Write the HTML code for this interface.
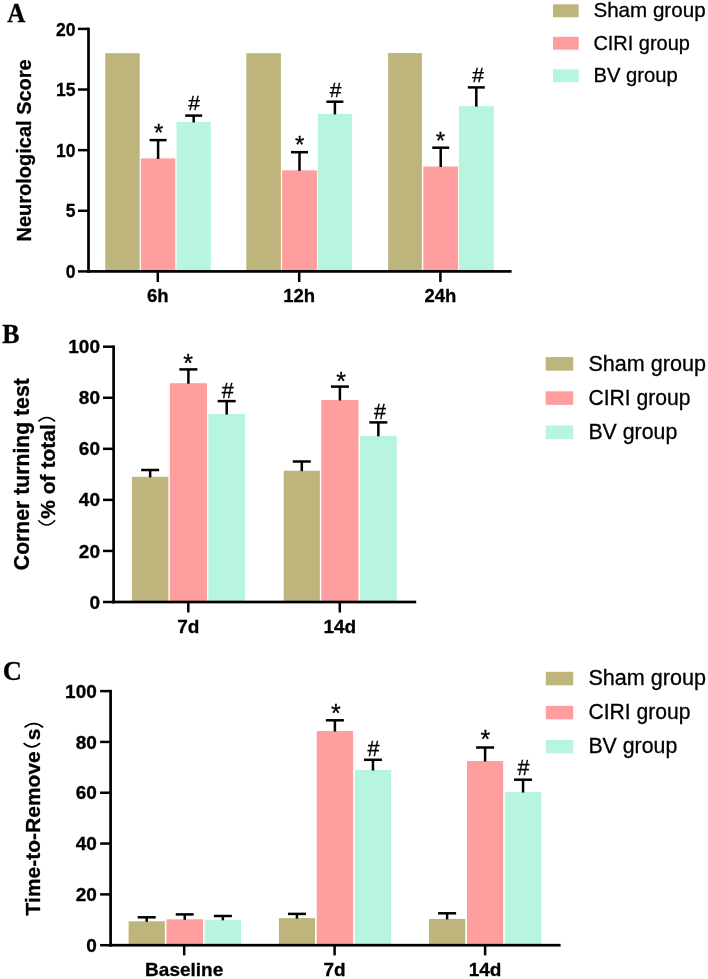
<!DOCTYPE html>
<html><head><meta charset="utf-8"><style>
html,body{margin:0;padding:0;background:#fff;}
svg{display:block;will-change:transform;}
text{stroke:#000;stroke-width:0.3px;}
</style></head><body>
<svg width="708" height="979" viewBox="0 0 708 979">
<rect width="708" height="979" fill="#fff"/>
<text x="0" y="0" transform="translate(7.30,22.30) scale(0.93,1)" font-family="Liberation Serif, serif" font-size="27" font-weight="bold">A</text>
<rect x="105.30" y="53.20" width="34.40" height="218.20" fill="#BEB57D"/>
<rect x="140.90" y="158.40" width="34.40" height="113.00" fill="#FF9E9E"/>
<rect x="156.85" y="140.10" width="2.50" height="18.80" fill="#000"/>
<rect x="149.60" y="138.85" width="17.00" height="2.50" fill="#000"/>
<rect x="176.50" y="121.90" width="34.40" height="149.50" fill="#B7F5DE"/>
<rect x="192.45" y="115.60" width="2.50" height="6.80" fill="#000"/>
<rect x="185.20" y="114.35" width="17.00" height="2.50" fill="#000"/>
<text x="158.60" y="141.00" font-family="Liberation Sans, sans-serif" font-size="24" font-weight="normal" text-anchor="middle">*</text>
<text x="194.00" y="110.20" font-family="Liberation Sans, sans-serif" font-size="21" font-weight="normal" text-anchor="middle">#</text>
<rect x="156.55" y="271.40" width="2.50" height="10.60" fill="#000"/>
<text x="157.80" y="301.50" font-family="Liberation Sans, sans-serif" font-size="18.5" font-weight="bold" text-anchor="middle">6h</text>
<rect x="246.30" y="53.20" width="34.60" height="218.20" fill="#BEB57D"/>
<rect x="282.10" y="170.30" width="34.80" height="101.10" fill="#FF9E9E"/>
<rect x="298.25" y="152.20" width="2.50" height="18.60" fill="#000"/>
<rect x="291.00" y="150.95" width="17.00" height="2.50" fill="#000"/>
<rect x="317.70" y="113.90" width="34.40" height="157.50" fill="#B7F5DE"/>
<rect x="333.65" y="101.70" width="2.50" height="12.70" fill="#000"/>
<rect x="326.40" y="100.45" width="17.00" height="2.50" fill="#000"/>
<text x="299.60" y="152.70" font-family="Liberation Sans, sans-serif" font-size="24" font-weight="normal" text-anchor="middle">*</text>
<text x="335.50" y="96.60" font-family="Liberation Sans, sans-serif" font-size="21" font-weight="normal" text-anchor="middle">#</text>
<rect x="297.95" y="271.40" width="2.50" height="10.60" fill="#000"/>
<text x="299.20" y="301.50" font-family="Liberation Sans, sans-serif" font-size="18.5" font-weight="bold" text-anchor="middle">12h</text>
<rect x="388.10" y="53.10" width="33.80" height="218.30" fill="#BEB57D"/>
<rect x="423.30" y="166.50" width="34.80" height="104.90" fill="#FF9E9E"/>
<rect x="439.45" y="147.70" width="2.50" height="19.30" fill="#000"/>
<rect x="432.20" y="146.45" width="17.00" height="2.50" fill="#000"/>
<rect x="458.90" y="106.10" width="34.80" height="165.30" fill="#B7F5DE"/>
<rect x="475.05" y="87.40" width="2.50" height="19.20" fill="#000"/>
<rect x="467.80" y="86.15" width="17.00" height="2.50" fill="#000"/>
<text x="440.40" y="149.10" font-family="Liberation Sans, sans-serif" font-size="24" font-weight="normal" text-anchor="middle">*</text>
<text x="478.00" y="82.20" font-family="Liberation Sans, sans-serif" font-size="21" font-weight="normal" text-anchor="middle">#</text>
<rect x="439.15" y="271.40" width="2.50" height="10.60" fill="#000"/>
<text x="440.40" y="301.50" font-family="Liberation Sans, sans-serif" font-size="18.5" font-weight="bold" text-anchor="middle">24h</text>
<rect x="87.15" y="27.65" width="2.70" height="245.10" fill="#000"/>
<rect x="87.15" y="270.05" width="424.45" height="2.70" fill="#000"/>
<rect x="78.00" y="270.15" width="10.50" height="2.50" fill="#000"/>
<text x="75.50" y="278.10" font-family="Liberation Sans, sans-serif" font-size="17.5" font-weight="bold" text-anchor="end">0</text>
<rect x="78.00" y="209.52" width="10.50" height="2.50" fill="#000"/>
<text x="75.50" y="217.47" font-family="Liberation Sans, sans-serif" font-size="17.5" font-weight="bold" text-anchor="end">5</text>
<rect x="78.00" y="148.90" width="10.50" height="2.50" fill="#000"/>
<text x="75.50" y="156.85" font-family="Liberation Sans, sans-serif" font-size="17.5" font-weight="bold" text-anchor="end">10</text>
<rect x="78.00" y="88.27" width="10.50" height="2.50" fill="#000"/>
<text x="75.50" y="96.22" font-family="Liberation Sans, sans-serif" font-size="17.5" font-weight="bold" text-anchor="end">15</text>
<rect x="78.00" y="27.65" width="10.50" height="2.50" fill="#000"/>
<text x="75.50" y="35.60" font-family="Liberation Sans, sans-serif" font-size="17.5" font-weight="bold" text-anchor="end">20</text>
<rect x="553.00" y="4.30" width="25.70" height="12.90" fill="#BEB57D"/>
<text x="0" y="0" transform="translate(593.40,17.40) scale(1.0,1)" font-family="Liberation Sans, sans-serif" font-size="20.6">Sham group</text>
<rect x="553.00" y="36.80" width="25.70" height="12.90" fill="#FF9E9E"/>
<text x="0" y="0" transform="translate(593.40,49.90) scale(0.969,1)" font-family="Liberation Sans, sans-serif" font-size="20.6">CIRI group</text>
<rect x="553.00" y="69.30" width="25.70" height="12.90" fill="#B7F5DE"/>
<text x="0" y="0" transform="translate(593.40,82.40) scale(0.983,1)" font-family="Liberation Sans, sans-serif" font-size="20.6">BV group</text>
<text x="0" y="0" transform="translate(2.20,342.50) scale(0.96,1)" font-family="Liberation Serif, serif" font-size="27" font-weight="bold">B</text>
<rect x="131.90" y="476.80" width="36.50" height="125.20" fill="#BEB57D"/>
<rect x="148.90" y="470.00" width="2.50" height="7.30" fill="#000"/>
<rect x="141.15" y="468.75" width="18.00" height="2.50" fill="#000"/>
<rect x="169.80" y="383.20" width="37.20" height="218.80" fill="#FF9E9E"/>
<rect x="187.15" y="369.40" width="2.50" height="14.30" fill="#000"/>
<rect x="179.40" y="368.15" width="18.00" height="2.50" fill="#000"/>
<rect x="208.40" y="414.00" width="36.60" height="188.00" fill="#B7F5DE"/>
<rect x="225.45" y="401.10" width="2.50" height="13.40" fill="#000"/>
<rect x="217.70" y="399.85" width="18.00" height="2.50" fill="#000"/>
<text x="188.20" y="371.80" font-family="Liberation Sans, sans-serif" font-size="25" font-weight="normal" text-anchor="middle">*</text>
<text x="227.70" y="397.50" font-family="Liberation Sans, sans-serif" font-size="21.5" font-weight="normal" text-anchor="middle">#</text>
<rect x="187.05" y="602.00" width="2.50" height="10.50" fill="#000"/>
<text x="188.30" y="633.00" font-family="Liberation Sans, sans-serif" font-size="19" font-weight="bold" text-anchor="middle">7d</text>
<rect x="283.70" y="470.70" width="36.20" height="131.30" fill="#BEB57D"/>
<rect x="300.55" y="461.50" width="2.50" height="9.70" fill="#000"/>
<rect x="292.80" y="460.25" width="18.00" height="2.50" fill="#000"/>
<rect x="321.30" y="400.00" width="37.20" height="202.00" fill="#FF9E9E"/>
<rect x="338.65" y="386.60" width="2.50" height="13.90" fill="#000"/>
<rect x="330.90" y="385.35" width="18.00" height="2.50" fill="#000"/>
<rect x="359.90" y="435.80" width="36.90" height="166.20" fill="#B7F5DE"/>
<rect x="377.10" y="422.40" width="2.50" height="13.90" fill="#000"/>
<rect x="369.35" y="421.15" width="18.00" height="2.50" fill="#000"/>
<text x="341.00" y="389.60" font-family="Liberation Sans, sans-serif" font-size="25" font-weight="normal" text-anchor="middle">*</text>
<text x="380.10" y="418.70" font-family="Liberation Sans, sans-serif" font-size="21.5" font-weight="normal" text-anchor="middle">#</text>
<rect x="338.55" y="602.00" width="2.50" height="10.50" fill="#000"/>
<text x="339.80" y="633.00" font-family="Liberation Sans, sans-serif" font-size="19" font-weight="bold" text-anchor="middle">14d</text>
<rect x="112.25" y="345.45" width="2.70" height="257.90" fill="#000"/>
<rect x="112.25" y="600.65" width="303.95" height="2.70" fill="#000"/>
<rect x="103.00" y="600.75" width="10.60" height="2.50" fill="#000"/>
<text x="100.00" y="608.60" font-family="Liberation Sans, sans-serif" font-size="19" font-weight="bold" text-anchor="end">0</text>
<rect x="103.00" y="549.69" width="10.60" height="2.50" fill="#000"/>
<text x="100.00" y="557.54" font-family="Liberation Sans, sans-serif" font-size="19" font-weight="bold" text-anchor="end">20</text>
<rect x="103.00" y="498.63" width="10.60" height="2.50" fill="#000"/>
<text x="100.00" y="506.48" font-family="Liberation Sans, sans-serif" font-size="19" font-weight="bold" text-anchor="end">40</text>
<rect x="103.00" y="447.57" width="10.60" height="2.50" fill="#000"/>
<text x="100.00" y="455.42" font-family="Liberation Sans, sans-serif" font-size="19" font-weight="bold" text-anchor="end">60</text>
<rect x="103.00" y="396.51" width="10.60" height="2.50" fill="#000"/>
<text x="100.00" y="404.36" font-family="Liberation Sans, sans-serif" font-size="19" font-weight="bold" text-anchor="end">80</text>
<rect x="103.00" y="345.45" width="10.60" height="2.50" fill="#000"/>
<text x="100.00" y="353.30" font-family="Liberation Sans, sans-serif" font-size="19" font-weight="bold" text-anchor="end">100</text>
<rect x="545.60" y="357.10" width="27.60" height="13.60" fill="#BEB57D"/>
<text x="0" y="0" transform="translate(588.40,370.70) scale(0.995,1)" font-family="Liberation Sans, sans-serif" font-size="21.7">Sham group</text>
<rect x="545.60" y="391.30" width="27.60" height="13.60" fill="#FF9E9E"/>
<text x="0" y="0" transform="translate(588.40,404.90) scale(0.974,1)" font-family="Liberation Sans, sans-serif" font-size="21.7">CIRI group</text>
<rect x="545.60" y="425.50" width="27.60" height="13.60" fill="#B7F5DE"/>
<text x="0" y="0" transform="translate(588.40,439.10) scale(0.982,1)" font-family="Liberation Sans, sans-serif" font-size="21.7">BV group</text>
<text x="0" y="0" transform="translate(2.80,680.00) scale(0.98,1)" font-family="Liberation Serif, serif" font-size="27" font-weight="bold">C</text>
<rect x="128.60" y="921.30" width="36.20" height="23.90" fill="#BEB57D"/>
<rect x="145.45" y="917.30" width="2.50" height="4.50" fill="#000"/>
<rect x="137.70" y="916.05" width="18.00" height="2.50" fill="#000"/>
<rect x="166.50" y="919.30" width="36.50" height="25.90" fill="#FF9E9E"/>
<rect x="183.50" y="914.40" width="2.50" height="5.40" fill="#000"/>
<rect x="175.75" y="913.15" width="18.00" height="2.50" fill="#000"/>
<rect x="204.70" y="919.80" width="36.30" height="25.40" fill="#B7F5DE"/>
<rect x="221.60" y="916.00" width="2.50" height="4.30" fill="#000"/>
<rect x="213.85" y="914.75" width="18.00" height="2.50" fill="#000"/>
<rect x="182.95" y="945.20" width="2.50" height="10.20" fill="#000"/>
<text x="184.20" y="976.30" font-family="Liberation Sans, sans-serif" font-size="19" font-weight="bold" text-anchor="middle">Baseline</text>
<rect x="278.90" y="918.10" width="36.10" height="27.10" fill="#BEB57D"/>
<rect x="295.70" y="913.90" width="2.50" height="4.70" fill="#000"/>
<rect x="287.95" y="912.65" width="18.00" height="2.50" fill="#000"/>
<rect x="316.70" y="731.00" width="36.40" height="214.20" fill="#FF9E9E"/>
<rect x="333.65" y="720.30" width="2.50" height="11.20" fill="#000"/>
<rect x="325.90" y="719.05" width="18.00" height="2.50" fill="#000"/>
<rect x="354.80" y="770.00" width="36.30" height="175.20" fill="#B7F5DE"/>
<rect x="371.70" y="759.80" width="2.50" height="10.70" fill="#000"/>
<rect x="363.95" y="758.55" width="18.00" height="2.50" fill="#000"/>
<text x="335.80" y="722.30" font-family="Liberation Sans, sans-serif" font-size="25" font-weight="normal" text-anchor="middle">*</text>
<text x="373.60" y="756.10" font-family="Liberation Sans, sans-serif" font-size="21.5" font-weight="normal" text-anchor="middle">#</text>
<rect x="333.35" y="945.20" width="2.50" height="10.20" fill="#000"/>
<text x="334.60" y="976.30" font-family="Liberation Sans, sans-serif" font-size="19" font-weight="bold" text-anchor="middle">7d</text>
<rect x="429.00" y="918.90" width="36.20" height="26.30" fill="#BEB57D"/>
<rect x="445.85" y="913.30" width="2.50" height="6.10" fill="#000"/>
<rect x="438.10" y="912.05" width="18.00" height="2.50" fill="#000"/>
<rect x="467.00" y="761.00" width="36.20" height="184.20" fill="#FF9E9E"/>
<rect x="483.85" y="747.50" width="2.50" height="14.00" fill="#000"/>
<rect x="476.10" y="746.25" width="18.00" height="2.50" fill="#000"/>
<rect x="504.70" y="792.00" width="36.70" height="153.20" fill="#B7F5DE"/>
<rect x="521.80" y="779.70" width="2.50" height="12.80" fill="#000"/>
<rect x="514.05" y="778.45" width="18.00" height="2.50" fill="#000"/>
<text x="485.30" y="748.30" font-family="Liberation Sans, sans-serif" font-size="25" font-weight="normal" text-anchor="middle">*</text>
<text x="523.60" y="774.60" font-family="Liberation Sans, sans-serif" font-size="21.5" font-weight="normal" text-anchor="middle">#</text>
<rect x="483.85" y="945.20" width="2.50" height="10.20" fill="#000"/>
<text x="485.10" y="976.30" font-family="Liberation Sans, sans-serif" font-size="19" font-weight="bold" text-anchor="middle">14d</text>
<rect x="109.25" y="689.85" width="2.70" height="256.70" fill="#000"/>
<rect x="109.25" y="943.85" width="451.35" height="2.70" fill="#000"/>
<rect x="100.10" y="943.95" width="10.50" height="2.50" fill="#000"/>
<text x="96.80" y="951.80" font-family="Liberation Sans, sans-serif" font-size="19" font-weight="bold" text-anchor="end">0</text>
<rect x="100.10" y="893.13" width="10.50" height="2.50" fill="#000"/>
<text x="96.80" y="900.98" font-family="Liberation Sans, sans-serif" font-size="19" font-weight="bold" text-anchor="end">20</text>
<rect x="100.10" y="842.31" width="10.50" height="2.50" fill="#000"/>
<text x="96.80" y="850.16" font-family="Liberation Sans, sans-serif" font-size="19" font-weight="bold" text-anchor="end">40</text>
<rect x="100.10" y="791.49" width="10.50" height="2.50" fill="#000"/>
<text x="96.80" y="799.34" font-family="Liberation Sans, sans-serif" font-size="19" font-weight="bold" text-anchor="end">60</text>
<rect x="100.10" y="740.67" width="10.50" height="2.50" fill="#000"/>
<text x="96.80" y="748.52" font-family="Liberation Sans, sans-serif" font-size="19" font-weight="bold" text-anchor="end">80</text>
<rect x="100.10" y="689.85" width="10.50" height="2.50" fill="#000"/>
<text x="96.80" y="697.70" font-family="Liberation Sans, sans-serif" font-size="19" font-weight="bold" text-anchor="end">100</text>
<rect x="545.80" y="671.80" width="27.40" height="13.50" fill="#BEB57D"/>
<text x="0" y="0" transform="translate(588.40,685.30) scale(0.995,1)" font-family="Liberation Sans, sans-serif" font-size="21.7">Sham group</text>
<rect x="545.80" y="705.85" width="27.40" height="13.50" fill="#FF9E9E"/>
<text x="0" y="0" transform="translate(588.40,719.35) scale(0.974,1)" font-family="Liberation Sans, sans-serif" font-size="21.7">CIRI group</text>
<rect x="545.80" y="739.90" width="27.40" height="13.50" fill="#B7F5DE"/>
<text x="0" y="0" transform="translate(588.40,753.40) scale(0.982,1)" font-family="Liberation Sans, sans-serif" font-size="21.7">BV group</text>
<text x="0" y="0" transform="translate(31.10,150.40) rotate(-90)" font-family="Liberation Sans, sans-serif" font-size="20" font-weight="bold" text-anchor="middle">Neurological Score</text>
<text x="0" y="0" transform="translate(29.00,474.20) rotate(-90)" font-family="Liberation Sans, sans-serif" font-size="21.2" font-weight="bold" text-anchor="middle">Corner turning test</text>
<text x="0" y="0" transform="translate(54.80,471.50) rotate(-90)" font-family="Liberation Sans, sans-serif" font-size="21" font-weight="bold" text-anchor="middle">% of total</text>
<text x="0" y="0" transform="translate(39.90,833.30) rotate(-90)" font-family="Liberation Sans, sans-serif" font-size="21" font-weight="bold" text-anchor="middle">Time-to-Remove</text>
<path d="M38.30,421.40 Q46.70,413.60 55.10,421.40" fill="none" stroke="#000" stroke-width="1.5"/>
<path d="M38.30,520.30 Q46.70,529.70 55.10,520.30" fill="none" stroke="#000" stroke-width="1.5"/>
<path d="M24.50,727.30 Q33.85,720.10 43.20,727.30" fill="none" stroke="#000" stroke-width="1.7"/>
<text x="0" y="0" transform="translate(40.10,734.50) rotate(-90)" font-family="Liberation Sans, sans-serif" font-size="21" font-weight="bold" text-anchor="middle">s</text>
<path d="M23.60,743.20 Q31.85,750.60 40.10,743.20" fill="none" stroke="#000" stroke-width="1.7"/>
</svg>
</body></html>
